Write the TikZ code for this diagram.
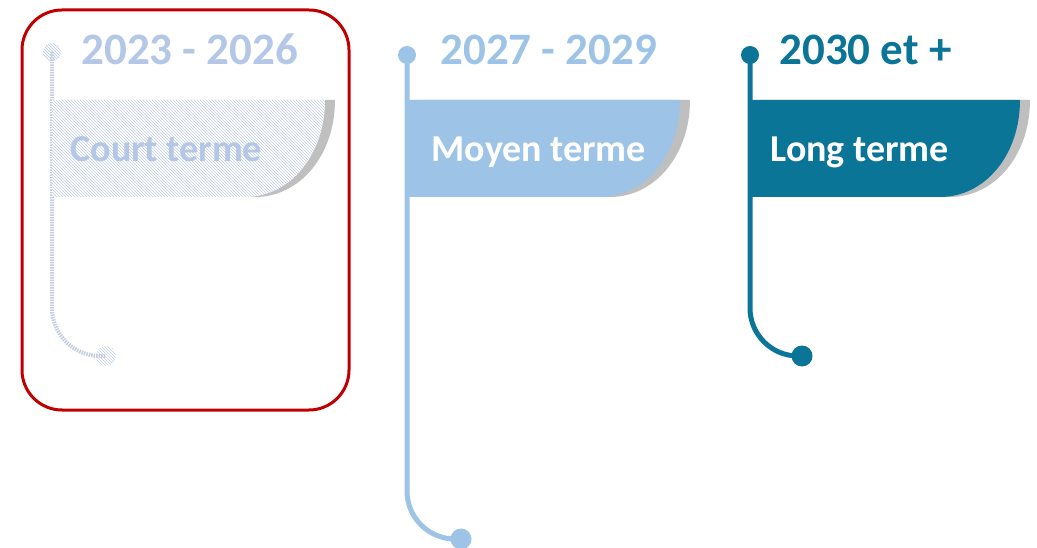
\documentclass[tikz,border=0pt]{standalone}
\usepackage{fontspec}
\setmainfont{Carlito}
\usetikzlibrary{patterns}

\definecolor{midblue}{HTML}{9DC3E6}
\definecolor{deepteal}{HTML}{0A7597}
\definecolor{fadeblue}{HTML}{B4C7E7}
\definecolor{hatchblue}{HTML}{C3CEE0}
\definecolor{shadowgrey}{HTML}{BFBFBF}
\definecolor{framered}{HTML}{C00000}

\begin{document}
\begin{tikzpicture}[x=1pt,y=-1pt,
    stem/.style={line width=5pt, rounded corners=48pt},
    dot/.style={circle, inner sep=0pt, minimum size=#1},
    year/.style={anchor=base west, font=\bfseries\fontsize{45}{50}\selectfont},
    bannertext/.style={anchor=base west, font=\bfseries\fontsize{38}{42}\selectfont, text=white}]

    \useasboundingbox (0,0) rectangle (1037,548);

    % Dots at both ends of each stem
    \node[dot=18pt, pattern=north west lines, pattern color=hatchblue] (t1) at (52,52) {};
    \node[dot=20pt, pattern=north west lines, pattern color=hatchblue] (b1) at (106,356) {};
    \node[dot=18pt, fill=midblue] (t2) at (407,55) {};
    \node[dot=21pt, fill=midblue] (b2) at (461,539) {};
    \node[dot=18pt, fill=deepteal] (t3) at (750,55) {};
    \node[dot=21pt, fill=deepteal] (b3) at (802,356) {};

    % Stems from the top dot down and round to the bottom dot
    \draw[stem, hatchblue, line width=4pt, dash pattern=on 1.5pt off 1pt] (t1.center) |- (b1.center);
    \draw[stem, midblue] (t2.center) |- (b2.center);
    \draw[stem, deepteal] (t3.center) |- (b3.center);

    % Grey shadows behind the banners
    \fill[shadowgrey] (62,100) -- (335,100) .. controls (335,155) and (300,197) .. (255,197) -- (62,197) -- cycle;
    \fill[shadowgrey] (417,100) -- (690,100) .. controls (690,155) and (655,197) .. (610,197) -- (417,197) -- cycle;
    \fill[shadowgrey] (760,100) -- (1030,100) .. controls (1030,155) and (995,197) .. (950,197) -- (760,197) -- cycle;

    % Banners
    \fill[white] (52,100) -- (325,100) .. controls (325,155) and (290,197) .. (245,197) -- (52,197) -- cycle;
    \fill[pattern=north west lines, pattern color=hatchblue] (52,100) -- (325,100) .. controls (325,155) and (290,197) .. (245,197) -- (52,197) -- cycle;
    \fill[midblue] (407,100) -- (680,100) .. controls (680,155) and (645,197) .. (600,197) -- (407,197) -- cycle;
    \fill[deepteal] (750,100) -- (1020,100) .. controls (1020,155) and (985,197) .. (940,197) -- (750,197) -- cycle;

    % Redraw the top dots over the banners
    \node[dot=18pt, pattern=north west lines, pattern color=hatchblue] at (t1) {};

    % Years
    \node[year, text=fadeblue] (y1) at (78,65) {2023 - 2026};
    \node[year, text=midblue] (y2) at (437,65) {2027 - 2029};
    \node[year, text=deepteal] (y3) at (776,65) {2030 et +};

    % Banner labels
    \node[bannertext, text=fadeblue] (l1) at (67,162) {Court terme};
    \node[bannertext] (l2) at (428,162) {Moyen terme};
    \node[bannertext] (l3) at (767,162) {Long terme};

    % Frame round the first period
    \draw[framered, line width=3pt, rounded corners=40pt] (22,10) rectangle (349,410);

\end{tikzpicture}
\end{document}
